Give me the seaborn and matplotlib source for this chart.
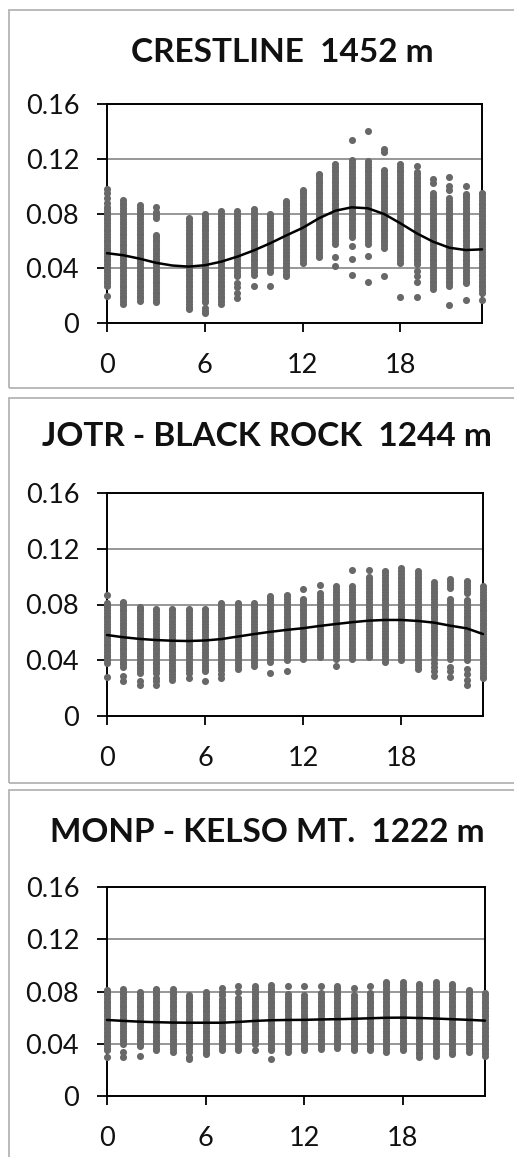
import numpy as np
import pandas as pd
import matplotlib
matplotlib.use("Agg")
import matplotlib.pyplot as plt
from matplotlib.patches import Rectangle
import seaborn as sns

# Hourly ozone (ppm) at three high-desert / mountain sites.
# Each hour's readings are given in ppb: "a-b" is a contiguous run of
# reported levels (every 2 ppb from a to b), single numbers are isolated readings.
HOURS = list(range(24))

SITE_TITLES = ["CRESTLINE  1452 m", "JOTR - BLACK ROCK  1244 m", "MONP - KELSO MT.  1222 m"]

CRESTLINE_READINGS = [
    "20,27-85,88,91,95,98", "14-90", "16-86", "15-64,77-81,85", "",
    "10-77", "7-11,15-80", "14-82", "18,22,26,29,34-82", "27,35-83",
    "27,37-80", "34-89", "44-97", "48-109", "42,48,58-116",
    "35,47,56,63-119,134", "30,49,58-118,140", "34,55-112,125,127", "19,44-116",
    "19,30,34,38,43-110,115", "25-95,102,105", "13,27-91,97,100,107",
    "17,29-94,100", "17,22-95",
]
CRESTLINE_MEAN = [51, 49.5, 47, 44, 42, 41.2, 42.2, 44.8, 48.5, 53, 58.2, 64,
                  69.5, 76.5, 82, 84.5, 83.8, 79.6, 72.8, 65.5, 59.4, 55, 53.3, 53.8]

BLACKROCK_READINGS = [
    "28,38-81,87", "25,29,35-82", "22,25,31-78", "22,25,27,31-77", "26-77",
    "27,31-77", "25,32-77", "27,30,33-81", "34-81", "36-81",
    "31,39-86", "32,40-87", "41-84,91", "42-88,94", "36,41-93",
    "41-93,105", "42-100,105", "39-104", "40-106", "34-104",
    "29,32,35,38,41,44-96", "28,32,35,41-84,92-98", "22,26,30,34,40-83,88-97", "27-93",
]
BLACKROCK_MEAN = [58.1, 56.5, 55.3, 54.5, 54, 53.8, 54.2, 55.2, 57, 58.8, 60.4, 61.8,
                  63, 64.6, 66, 67.3, 68.4, 68.9, 68.9, 68.2, 67, 64.8, 62.9, 58.8]

KELSO_READINGS = [
    "30,35-81", "30,34,40-82", "31,38-80", "35-82", "34-82",
    "28,30,34-77", "32-80", "35-74,77,80,83", "35-75,80,84", "35,40-84",
    "28,35-85", "34-78,84", "35-77,84", "36-79,84", "37-84",
    "35-77,83", "35-79,84", "34-87", "35-87", "30-86",
    "31-87", "32-86", "34-81", "31-79",
]
KELSO_MEAN = [58.2, 57.5, 56.9, 56.5, 56.2, 56.1, 56.1, 56.1, 56.7, 57.5, 58, 58.2,
              58.3, 58.6, 58.8, 59.1, 59.5, 59.9, 60, 59.7, 59.3, 58.8, 58.3, 57.7]

Y_TICKS = [0, 0.04, 0.08, 0.12, 0.16]
Y_TICK_LABELS = ["0", "0.04", "0.08", "0.12", "0.16"]
X_TICKS = [0, 6, 12, 18]
X_TICK_LABELS = ["0", "6", "12", "18"]


def expand(spec):
    """Turn a reading spec into a list of ppb values."""
    values = []
    for token in spec.split(","):
        token = token.strip()
        if not token:
            continue
        if "-" in token:
            lo, hi = (int(t) for t in token.split("-"))
            run = list(range(lo, hi + 1, 2))
            if run[-1] != hi:
                run.append(hi)
            values.extend(run)
        else:
            values.append(float(token))
    return values


def readings_frame(specs):
    rows = []
    for hour, spec in zip(HOURS, specs):
        for v in expand(spec):
            rows.append((hour, v / 1000.0))
    return pd.DataFrame(rows, columns=["hour", "ozone"])


sns.set_theme(style="white")
plt.rcParams["font.family"] = ["Lato", "DejaVu Sans"]

W, H = 514, 1157
fig = plt.figure(figsize=(W / 100, H / 100), dpi=100)
fig.patch.set_facecolor("white")

# pixel geometry of each panel: box top, box bottom, axes top, axes bottom, axes right, title x, title y
panels = [
    (10, 388, 104, 323, 482, 282, 52),
    (398, 783, 493, 716, 483, 267, 437),
    (790, 1175, 887, 1096, 485, 267, 833),
]
datasets = [
    (CRESTLINE_READINGS, CRESTLINE_MEAN),
    (BLACKROCK_READINGS, BLACKROCK_MEAN),
    (KELSO_READINGS, KELSO_MEAN),
]

AX_LEFT = 107
DOT = "#686868"

for (btop, bbot, atop, abot, aright, tx, ty), title, (specs, mean) in zip(panels, SITE_TITLES, datasets):
    # light frame around each panel
    fig.patches.append(Rectangle((9 / W, 1 - bbot / H), 1.2, (bbot - btop) / H,
                                 transform=fig.transFigure, fill=False,
                                 edgecolor="#b4b4b4", linewidth=1.3, zorder=0))
    fig.text(tx / W, 1 - ty / H, title, ha="center", va="center",
             fontsize=24, fontweight="bold", color="#111111")

    ax = fig.add_axes([AX_LEFT / W, 1 - abot / H, (aright - AX_LEFT) / W, (abot - atop) / H])
    ax.set_facecolor("white")

    df = readings_frame(specs)
    sns.scatterplot(data=df, x="hour", y="ozone", ax=ax, color=DOT, s=26,
                    linewidth=0, legend=False, clip_on=False, zorder=3)
    line_df = pd.DataFrame({"hour": HOURS, "ozone": np.array(mean) / 1000.0})
    sns.lineplot(data=line_df, x="hour", y="ozone", ax=ax, color="black",
                 linewidth=1.8, legend=False, zorder=4, clip_on=False)

    ax.set_xlim(0, 23)
    ax.set_ylim(0, 0.16)
    ax.set_yticks(Y_TICKS)
    ax.set_yticklabels(Y_TICK_LABELS)
    ax.set_xticks(X_TICKS)
    ax.set_xticklabels(X_TICK_LABELS)
    ax.set_xlabel("")
    ax.set_ylabel("")
    ax.set_axisbelow(True)
    ax.yaxis.grid(True, color="#8f8f8f", linewidth=1.3)
    ax.xaxis.grid(False)
    for sp in ax.spines.values():
        sp.set_visible(True)
        sp.set_color("black")
        sp.set_linewidth(1.4)
        sp.set_zorder(2)
    ax.tick_params(axis="y", direction="out", length=7, width=1.3, color="black",
                   pad=13, labelsize=19.5, left=True, labelcolor="#111111")
    ax.tick_params(axis="x", direction="out", length=6.5, width=1.3, color="black",
                   pad=15, labelsize=19.5, bottom=True, labelcolor="#111111")

fig.savefig("out.png", dpi=100, facecolor="white")
